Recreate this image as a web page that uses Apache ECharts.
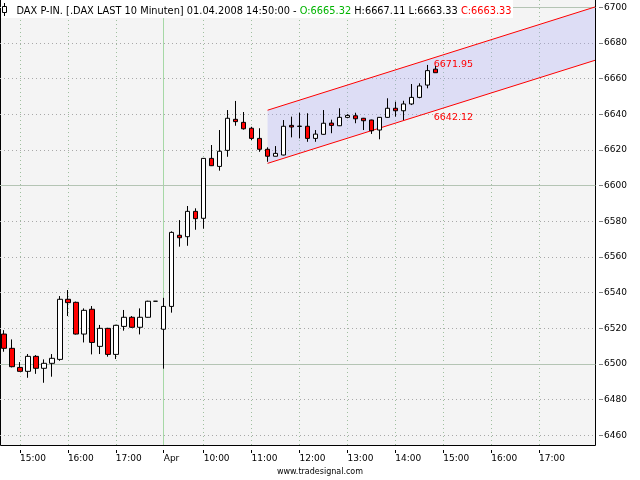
<!DOCTYPE html>
<html><head><meta charset="utf-8">
<script src="https://cdn.jsdelivr.net/npm/echarts@6/dist/echarts.min.js"></script>
<style>html,body{margin:0;padding:0;background:#fff}#c{width:640px;height:480px}</style>
</head><body><div id="c"></div>
<script>
// ---- categories (10 minute bars) ----
const day1Times = ['14:40','14:50','15:00','15:10','15:20','15:30','15:40','15:50','16:00','16:10','16:20','16:30','16:40','16:50','17:00','17:10','17:20','17:30','17:40','17:50'];
const day2Times = ['09:10','09:20','09:30','09:40','09:50','10:00','10:10','10:20','10:30','10:40','10:50','11:00','11:10','11:20','11:30','11:40','11:50','12:00','12:10','12:20','12:30','12:40','12:50','13:00','13:10','13:20','13:30','13:40','13:50','14:00','14:10','14:20','14:30','14:40','14:50','15:00','15:10','15:20','15:30','15:40','15:50','16:00','16:10','16:20','16:30','16:40','16:50','17:00','17:10','17:20','17:30','17:40','17:50','18:00','18:10'];
const day1Prefix = '31.03.2008 ';
const day2Prefix = '01.04.2008 ';
const categories = day1Times.map(t => day1Prefix + t).concat(day2Times.map(t => day2Prefix + t));

// ---- x tick labels ----
const tickCats = ['31.03.2008 15:00','31.03.2008 16:00','31.03.2008 17:00','01.04.2008 09:10','01.04.2008 10:00','01.04.2008 11:00','01.04.2008 12:00','01.04.2008 13:00','01.04.2008 14:00','01.04.2008 15:00','01.04.2008 16:00','01.04.2008 17:00'];
const tickLabels = ['15:00','16:00','17:00','Apr','10:00','11:00','12:00','13:00','14:00','15:00','16:00','17:00'];
const dayBreakCat = '01.04.2008 09:10';

// ---- OHLC values ----
const opens  = [6516.8,6508.8,6498.1,6495.9,6504.3,6497.6,6500.4,6502.6,6536.3,6534.6,6516.8,6530.7,6509.9,6520.0,6505.4,6521.1,6526.2,6520.6,6526.2,6535.2,
                6519.5,6532.3,6572.2,6571.4,6585.6,6581.7,6615.3,6610.8,6619.8,6637.2,6635.5,6632.2,6626.5,6620.4,6616.5,6617.2,6633.8,6633.2,6633.3,6626.5,
                6628.8,6635.1,6633.6,6638.3,6639.2,6637.8,6636.8,6631.2,6638.3,6643.4,6642.0,6645.8,6649.5,6656.4,6665.32];
const closes = [6508.8,6498.5,6495.9,6504.3,6497.6,6500.4,6503.2,6536.3,6534.4,6516.8,6530.1,6512.1,6520.0,6505.4,6521.7,6526.2,6520.6,6526.2,6535.2,6535.2,
                6532.3,6573.8,6570.8,6585.6,6581.5,6615.3,6611.2,6619.3,6637.8,6635.9,6631.9,6626.5,6620.4,6616.5,6618.1,6633.3,6632.9,6633.4,6626.5,6628.9,
                6635.0,6633.8,6638.3,6639.4,6637.5,6636.4,6630.8,6638.3,6643.4,6642.0,6645.8,6649.5,6655.9,6664.5,6663.33];
const lows   = [6506.9,6498.1,6495.9,6492.3,6494.5,6489.5,6492.9,6501.8,6526.9,6516.5,6512.1,6505.4,6505.6,6504.1,6502.8,6518.7,6520.3,6516.6,6526.0,6535.2,
                6497.4,6528.8,6565.8,6566.3,6575.3,6575.9,6611.0,6608.4,6616.2,6633.6,6631.4,6625.6,6619.0,6613.4,6616.4,6617.0,6627.1,6626.5,6624.6,6624.6,
                6628.6,6629.4,6633.4,6637.8,6635.0,6631.2,6629.0,6626.0,6638.0,6638.7,6636.8,6645.2,6649.0,6654.6,6663.33];
const highs  = [6519.0,6513.8,6501.1,6505.6,6505.0,6502.6,6505.6,6538.1,6541.5,6535.0,6531.2,6532.5,6521.9,6520.3,6522.0,6530.3,6526.9,6531.2,6535.5,6535.2,
                6537.1,6574.4,6580.7,6588.6,6587.3,6615.5,6622.8,6631.2,6642.4,6647.5,6641.3,6633.0,6632.2,6621.5,6622.2,6636.8,6638.7,6640.9,6640.6,6631.2,
                6642.4,6637.0,6643.4,6640.1,6640.9,6638.0,6637.0,6638.5,6649.0,6647.1,6647.6,6657.0,6657.4,6667.7,6667.11];

// ---- regression channel ----
const channelCats = ['01.04.2008 11:20','01.04.2008 18:10'];
const channelUpper = [6642.3, 6700.2];
const channelLower = [6612.5, 6670.3];
const channelLabelCat = '01.04.2008 14:50';
const channelLabelValues = [6671.95, 6642.12];

// ---- y axis ----
const yMin = 6460, yMax = 6700, yStep = 20;
const solidLevels = [6500, 6600, 6700];

const FONT = '"DejaVu Sans", Verdana, sans-serif';
const candleData = opens.map((o, i) => [o, closes[i], lows[i], highs[i]]);
const last = candleData.length - 1;
const lastCat = categories[last];

const vLines = tickCats.map(c => c === dayBreakCat
  ? { xAxis: c, lineStyle: { color: '#a6d8a6', type: 'solid', width: 1 } }
  : { xAxis: c, lineStyle: { color: '#9fbf9f', type: [1, 3], width: 1 } });

const chart = echarts.init(document.getElementById('c'), null, { renderer: 'canvas' });
const headerText = '{k|DAX P-IN. [.DAX LAST 10 Minuten] ' + lastCat + ':00 - }' +
  '{g|O:' + opens[last].toFixed(2) + '}' +
  '{k| H:' + highs[last].toFixed(2) + ' L:' + lows[last].toFixed(2) + ' }' +
  '{r|C:' + closes[last].toFixed(2) + '}';

chart.setOption({
  animation: false,
  backgroundColor: '#ffffff',
  grid: [
    { left: 0, top: 0, width: 599, height: 445, show: false, outerBoundsMode: 'none', containLabel: false },
    { left: 0, top: 7.31, width: 595.5, height: 428.0, show: false, outerBoundsMode: 'none', containLabel: false },
    { left: 0.5, top: -1.5, width: 595, height: 447, show: true, backgroundColor: '#f4f4f4', borderColor: '#000', borderWidth: 1, outerBoundsMode: 'none', containLabel: false }
  ],
  xAxis: [
    {
      gridIndex: 0, type: 'category', data: categories, boundaryGap: true, offset: 5,
      axisLine: { show: false },
      axisTick: { show: true, alignWithLabel: true, length: 3, interval: (i, v) => tickCats.indexOf(v) >= 0, lineStyle: { color: '#000' } },
      axisLabel: {
        interval: (i, v) => tickCats.indexOf(v) >= 0,
        formatter: v => { const k = tickCats.indexOf(v); return k >= 0 ? tickLabels[k] : ''; },
        align: 'left', margin: 4, lineHeight: 10, fontFamily: FONT, fontSize: 9, color: '#000'
      },
      splitLine: { show: false }
    },
    { gridIndex: 1, type: 'category', data: categories, show: false }
  ],
  yAxis: [
    { gridIndex: 0, type: 'value', min: 6454.6, max: 6704.1, show: false, splitLine: { show: false } },
    {
      gridIndex: 1, type: 'value', min: yMin, max: yMax, interval: yStep, position: 'right', offset: 3.5,
      axisLine: { show: false },
      axisTick: { show: true, length: 4, lineStyle: { color: '#808080' } },
      axisLabel: { margin: 5, fontFamily: FONT, fontSize: 9, color: '#000', formatter: v => String(v) },
      splitLine: { show: true, lineStyle: { color: '#a8a8a8', type: [1, 3], width: 1 } }
    }
  ],
  series: [
    {
      type: 'custom', xAxisIndex: 0, yAxisIndex: 0, z: 2, silent: true,
      data: [[categories.indexOf(channelCats[0]), channelUpper[0], channelLower[0]]],
      renderItem: function (params, api) {
        const i0 = categories.indexOf(channelCats[0]), i1 = categories.indexOf(channelCats[1]);
        const u0 = api.coord([i0, channelUpper[0]]), u1 = api.coord([i1, channelUpper[1]]);
        const l0 = api.coord([i0, channelLower[0]]), l1 = api.coord([i1, channelLower[1]]);
        const li = categories.indexOf(channelLabelCat);
        const pu = api.coord([li, channelLabelValues[0]]), pl = api.coord([li, channelLabelValues[1]]);
        return {
          type: 'group', children: [
            { type: 'polygon', shape: { points: [u0, u1, l1, l0] }, style: { fill: 'rgba(170,170,250,0.3)' } },
            { type: 'line', shape: { x1: u0[0], y1: u0[1], x2: u1[0], y2: u1[1] }, style: { stroke: '#ff0000', lineWidth: 1 } },
            { type: 'line', shape: { x1: l0[0], y1: l0[1], x2: l1[0], y2: l1[1] }, style: { stroke: '#ff0000', lineWidth: 1 } },
            { type: 'text', x: pu[0] - 1.5, y: pu[1] + 2, style: { text: channelLabelValues[0].toFixed(2), fill: '#ff0000', font: '9.5px ' + FONT, align: 'left', verticalAlign: 'top' } },
            { type: 'text', x: pl[0] - 1.5, y: pl[1] + 2, style: { text: channelLabelValues[1].toFixed(2), fill: '#ff0000', font: '9.5px ' + FONT, align: 'left', verticalAlign: 'top' } }
          ]
        };
      }
    },
    {
      type: 'candlestick', xAxisIndex: 0, yAxisIndex: 0, z: 3, barWidth: 5,
      data: candleData,
      itemStyle: { color: '#ffffff', color0: '#ff0000', borderColor: '#000', borderColor0: '#000', borderColorDoji: '#000', borderWidth: 1 },
      markLine: { silent: true, z: 1, symbol: ['none', 'none'], label: { show: false }, animation: false, data: vLines }
    },
    {
      type: 'line', xAxisIndex: 1, yAxisIndex: 1, data: [], z: 1,
      markLine: {
        silent: true, z: 1, symbol: ['none', 'none'], label: { show: false }, animation: false,
        data: solidLevels.map(v => ({ yAxis: v, lineStyle: { color: '#b4c4b4', type: 'solid', width: 1 } }))
      }
    }
  ],
  graphic: [
    { type: 'rect', z: 100, shape: { x: 1, y: 0, width: 512, height: 18 }, style: { fill: '#ffffff' } },
    { type: 'line', z: 101, shape: { x1: 4.5, y1: 3, x2: 4.5, y2: 16 }, style: { stroke: '#000', lineWidth: 1 } },
    { type: 'rect', z: 102, shape: { x: 2.5, y: 6.5, width: 4, height: 6 }, style: { fill: '#fff', stroke: '#000', lineWidth: 1 } },
    {
      type: 'text', z: 101, x: 16.5, y: 11.1,
      style: {
        text: headerText, font: '9.8px ' + FONT, verticalAlign: 'middle', align: 'left',
        rich: { k: { fill: '#000', font: '9.8px ' + FONT }, g: { fill: '#00b400', font: '9.8px ' + FONT }, r: { fill: '#ff0000', font: '9.8px ' + FONT } }
      }
    },
    { type: 'text', z: 101, x: 320, y: 472, style: { text: 'www.tradesignal.com', font: '8px ' + FONT, fill: '#000', align: 'center', verticalAlign: 'middle' } }
  ]
});
</script></body></html>
